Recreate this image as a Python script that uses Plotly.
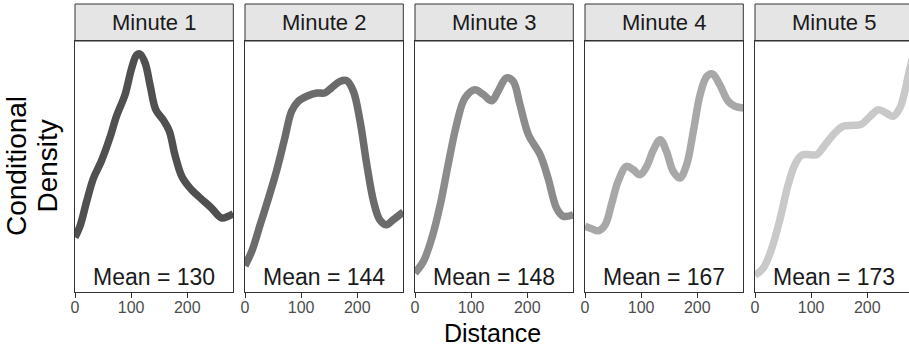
import plotly.graph_objects as go

# ---- data ----
panel_titles = ["Minute 1", "Minute 2", "Minute 3", "Minute 4", "Minute 5"]
mean_labels = ["Mean = 130", "Mean = 144", "Mean = 148", "Mean = 167", "Mean = 173"]
x_ticks = [0, 100, 200]

# conditional density (x 10^-3) along distance
dist_m1 = [0, 9, 21, 33, 47, 62, 74, 89, 101, 110, 116, 125, 134, 144, 157, 168, 178, 190, 205, 223, 243, 261, 273, 282]
dens_m1 = [2.18, 2.63, 3.63, 4.54, 5.22, 6.14, 7.01, 7.85, 8.92, 9.45, 9.48, 9.12, 8.21, 7.26, 6.86, 6.41, 5.47, 4.62, 4.14, 3.75, 3.35, 2.95, 3.02, 3.12]

dist_m2 = [0, 12, 27, 42, 56, 71, 83, 95, 110, 128, 142, 154, 169, 181, 193, 205, 217, 229, 240, 252, 264, 282]
dens_m2 = [1.05, 1.62, 2.68, 3.75, 4.81, 6.14, 7.20, 7.60, 7.80, 7.93, 7.93, 8.13, 8.39, 8.42, 8.00, 6.80, 5.07, 3.61, 2.88, 2.68, 2.88, 3.19]

dist_m3 = [0, 15, 30, 45, 59, 74, 89, 107, 122, 137, 148, 163, 175, 187, 202, 223, 237, 252, 264, 282]
dens_m3 = [0.76, 1.22, 2.15, 3.48, 5.07, 6.67, 7.73, 8.06, 7.86, 7.62, 8.00, 8.53, 8.39, 7.46, 6.27, 5.47, 4.54, 3.35, 3.02, 3.08]

dist_m4 = [0, 12, 24, 36, 47, 59, 74, 86, 98, 110, 122, 134, 145, 157, 169, 181, 193, 205, 217, 227, 240, 255, 267, 282]
dens_m4 = [2.62, 2.52, 2.44, 2.68, 3.48, 4.41, 5.01, 4.87, 4.67, 5.01, 5.67, 6.07, 5.61, 4.81, 4.54, 5.07, 6.40, 7.86, 8.59, 8.69, 8.26, 7.60, 7.40, 7.33]

dist_m5 = [0, 15, 30, 45, 59, 71, 83, 98, 110, 125, 142, 157, 175, 190, 205, 220, 234, 246, 258, 267, 274, 282]
dens_m5 = [0.67, 0.96, 1.75, 2.95, 4.27, 5.07, 5.45, 5.47, 5.47, 5.87, 6.33, 6.60, 6.64, 6.69, 7.00, 7.26, 7.13, 7.00, 7.33, 8.00, 8.73, 9.44]

dists = [dist_m1, dist_m2, dist_m3, dist_m4, dist_m5]
denss = [dens_m1, dens_m2, dens_m3, dens_m4, dens_m5]

# ---- styling ----
line_colors = ["#505050", "#6b6b6b", "#8c8c8c", "#a8a8a8", "#c9c9c9"]
FONT = "Liberation Sans, Arial, Helvetica, sans-serif"
BORDER = "#333333"

W, H = 909, 349
ML, MR, MT, MB = 75, 0, 41, 57
plot_w = W - ML - MR
plot_h = H - MT - MB
panel_px = 158.3
step_px = 170
px_per_unit = panel_px / 282.0

fig = go.Figure()
layout_axes = {}
annotations = []
shapes = []

for i in range(5):
    ax = "" if i == 0 else str(i + 1)
    x0 = step_px * i / plot_w
    x1 = min(1.0, (step_px * i + panel_px) / plot_w)
    xmax = (x1 - x0) * plot_w / px_per_unit
    fig.add_trace(go.Scatter(
        x=dists[i], y=denss[i], mode="lines",
        line=dict(color=line_colors[i], width=7.5, shape="spline", smoothing=1.0),
        xaxis="x" + ax, yaxis="y" + ax, showlegend=False, hoverinfo="skip",
    ))
    layout_axes["xaxis" + ax] = dict(
        domain=[x0, x1], range=[0, xmax], anchor="y" + ax,
        showgrid=False, zeroline=False,
        showline=True, mirror=True, linecolor=BORDER, linewidth=1,
        ticks="outside", ticklen=5, tickcolor=BORDER, tickwidth=1,
        ticklabelstandoff=-4,
        tickvals=x_ticks, ticktext=[str(t) for t in x_ticks],
        tickfont=dict(family=FONT, size=16, color="#4d4d4d"),
    )
    layout_axes["yaxis" + ax] = dict(
        domain=[0, 1], range=[0, 10], anchor="x" + ax,
        showgrid=False, zeroline=False, showticklabels=False, ticks="",
        showline=True, mirror=(i < 4), linecolor=BORDER, linewidth=1,
    )
    # strip header
    strip_top = (plot_h + MT - 4) / plot_h
    shapes.append(dict(
        type="rect", xref="paper", yref="paper",
        x0=x0, x1=x1 + (0.01 if i == 4 else 0), y0=1.0, y1=strip_top,
        fillcolor="#e5e5e5", line=dict(color=BORDER, width=1), layer="below",
    ))
    annotations.append(dict(
        text=panel_titles[i], xref="paper", yref="paper",
        x=(step_px * i + panel_px / 2) / plot_w, y=(1.0 + strip_top) / 2,
        xanchor="center", yanchor="middle", showarrow=False,
        font=dict(family=FONT, size=22, color="#1a1a1a"),
    ))
    annotations.append(dict(
        text=mean_labels[i], xref="paper", yref="paper",
        x=(step_px * i + panel_px / 2) / plot_w, y=(292 - 277) / plot_h,
        xanchor="center", yanchor="middle", showarrow=False,
        font=dict(family=FONT, size=23, color="#1a1a1a"),
    ))

annotations.append(dict(
    text="Distance", xref="paper", yref="paper",
    x=(492.7 - ML) / plot_w, y=(292 - 333) / plot_h,
    xanchor="center", yanchor="middle", showarrow=False,
    font=dict(family=FONT, size=25, color="black"),
))
for txt, cx in (("Conditional", 16.0), ("Density", 46.5)):
    annotations.append(dict(
        text=txt, xref="paper", yref="paper",
        x=(cx - ML) / plot_w, y=(292 - 166) / plot_h,
        xanchor="center", yanchor="middle", showarrow=False, textangle=-90,
        font=dict(family=FONT, size=28, color="black"),
    ))

fig.update_layout(
    width=W, height=H,
    margin=dict(l=ML, r=MR, t=MT, b=MB),
    paper_bgcolor="white", plot_bgcolor="white",
    annotations=annotations, shapes=shapes,
    showlegend=False,
    **layout_axes,
)

fig.write_html(
    "out.html",
    config={"displayModeBar": False},
    post_script="document.body.style.margin='0';document.body.style.overflow='hidden';",
)
